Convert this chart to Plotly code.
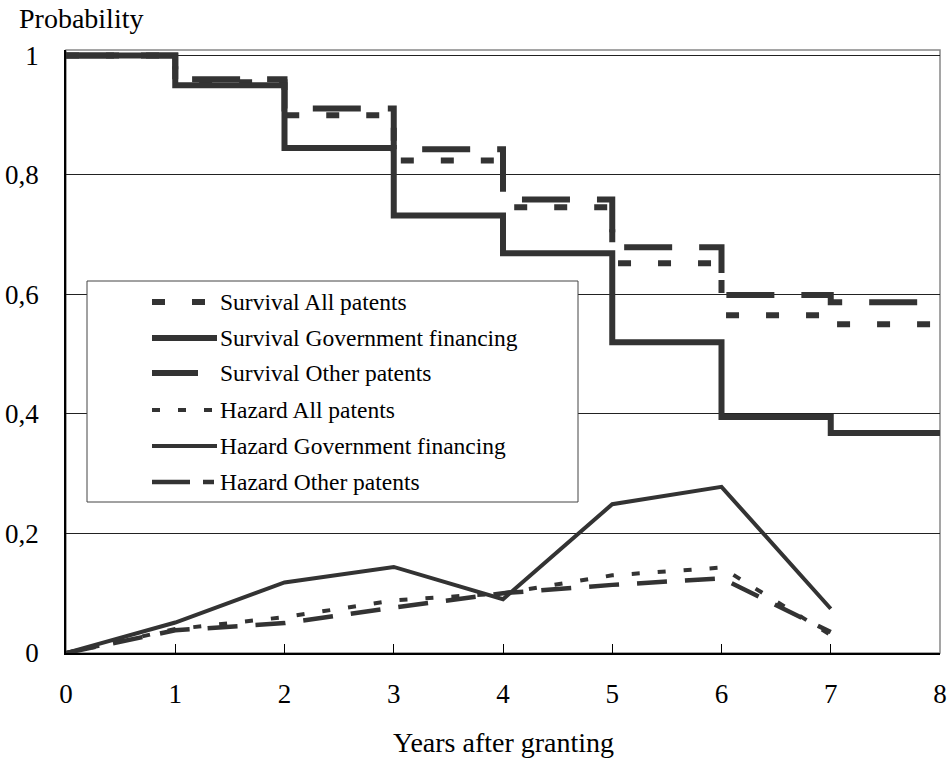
import plotly.graph_objects as go

# ---- data ----
years_surv = [0, 1, 2, 3, 4, 5, 6, 7, 8]
surv_all = [1.0, 0.955, 0.90, 0.824, 0.746, 0.652, 0.565, 0.55, 0.55]
surv_gov = [1.0, 0.95, 0.845, 0.732, 0.669, 0.52, 0.395, 0.368, 0.368]
surv_other = [1.0, 0.96, 0.911, 0.843, 0.759, 0.679, 0.599, 0.587, 0.587]

years_haz = [0, 1, 2, 3, 4, 5, 6, 7]
haz_all = [0.0, 0.04, 0.06, 0.088, 0.1, 0.13, 0.143, 0.03]
haz_gov = [0.0, 0.051, 0.118, 0.144, 0.09, 0.249, 0.278, 0.074]
haz_other = [0.0, 0.038, 0.05, 0.076, 0.1, 0.114, 0.125, 0.035]

legend_labels = ["Survival All patents", "Survival Government financing",
                 "Survival Other patents", "Hazard All patents",
                 "Hazard Government financing", "Hazard Other patents"]
y_tickvals = [0, 0.2, 0.4, 0.6, 0.8, 1]
y_ticktext = ["0", "0,2", "0,4", "0,6", "0,8", "1"]
x_tickvals = [0, 1, 2, 3, 4, 5, 6, 7, 8]

# ---- layout geometry ----
W, H = 951, 763
L, R, T, B = 66, 940, 50, 653
def px(x):
    return (x - L) / (R - L)
def py(y):
    return (B - y) / (B - T)

C = "#333333"
FONT = "Liberation Serif"

fig = go.Figure()
styles = [
    dict(width=6, dash="13px,27px"),
    dict(width=6, dash="solid"),
    dict(width=6, dash="48px,27px"),
    dict(width=4, dash="8px,18px"),
    dict(width=4, dash="solid"),
    dict(width=4.5, dash="30px,18px"),
]
fig.add_trace(go.Scatter(x=years_surv, y=surv_all, mode="lines", line_shape="hv",
                         line=dict(color=C, **styles[0]), name=legend_labels[0]))
fig.add_trace(go.Scatter(x=years_surv, y=surv_other, mode="lines", line_shape="hv",
                         line=dict(color=C, **styles[2]), name=legend_labels[2]))
fig.add_trace(go.Scatter(x=years_surv, y=surv_gov, mode="lines", line_shape="hv",
                         line=dict(color=C, **styles[1]), name=legend_labels[1]))
fig.add_trace(go.Scatter(x=years_haz, y=haz_all, mode="lines",
                         line=dict(color=C, **styles[3]), name=legend_labels[3]))
fig.add_trace(go.Scatter(x=years_haz, y=haz_other, mode="lines",
                         line=dict(color=C, **styles[5]), name=legend_labels[5]))
fig.add_trace(go.Scatter(x=years_haz, y=haz_gov, mode="lines",
                         line=dict(color=C, **styles[4]), name=legend_labels[4]))

shapes = []
annotations = []
# plot frame (gray top/right)
shapes.append(dict(type="rect", xref="paper", yref="paper", x0=0, x1=1, y0=0, y1=1,
                   line=dict(color="#888888", width=1.5), layer="below"))
# custom legend box
shapes.append(dict(type="rect", xref="paper", yref="paper", x0=px(87), x1=px(578),
                   y0=py(502), y1=py(281), line=dict(color="#444444", width=1),
                   fillcolor="white", layer="above"))
leg_y = [302, 338, 373, 410, 446, 482]
leg_styles = [
    dict(width=6, dash="13px,27px", x1=206),
    dict(width=6, dash="solid", x1=217),
    dict(width=6, dash="solid", x1=198),
    dict(width=4, dash="8px,18px", x1=214),
    dict(width=4, dash="solid", x1=217),
    dict(width=4.5, dash="38px,13px", x1=214),
]
for lab, yy, st in zip(legend_labels, leg_y, leg_styles):
    shapes.append(dict(type="line", xref="paper", yref="paper", x0=px(152), x1=px(st["x1"]),
                       y0=py(yy), y1=py(yy), line=dict(color=C, width=st["width"], dash=st["dash"]),
                       layer="above"))
    annotations.append(dict(x=px(218), y=py(yy), xref="paper", yref="paper", text=lab,
                            showarrow=False, xanchor="left", yanchor="middle",
                            font=dict(family=FONT, size=23.5, color="black")))

annotations.append(dict(x=px(17), y=py(18), xref="paper", yref="paper", text="Probability",
                        showarrow=False, xanchor="left", yanchor="middle",
                        font=dict(family=FONT, size=28, color="black")))
annotations.append(dict(x=px(503), y=py(742), xref="paper", yref="paper", text="Years after granting",
                        showarrow=False, xanchor="center", yanchor="middle",
                        font=dict(family=FONT, size=28, color="black")))

fig.update_layout(
    width=W, height=H,
    margin=dict(l=L, r=W - R, t=T, b=H - B, pad=0, autoexpand=False),
    paper_bgcolor="white", plot_bgcolor="white",
    showlegend=False,
    shapes=shapes, annotations=annotations,
    font=dict(family=FONT, size=27, color="black"),
)
fig.update_xaxes(range=[0, 8], tickvals=x_tickvals, ticks="inside", ticklen=9, tickcolor="black",
                 tickwidth=1, showline=True, linecolor="black", linewidth=1.5, showgrid=False,
                 zeroline=False, ticklabelstandoff=16, tickfont=dict(family=FONT, size=27),
                 automargin=False)
fig.update_yaxes(range=[0, 1.009], tickvals=y_tickvals, ticktext=y_ticktext, ticks="",
                 showline=True, linecolor="black", linewidth=1.5, showgrid=True,
                 gridcolor="#222222", gridwidth=1, zeroline=False, ticklabelstandoff=20,
                 tickfont=dict(family=FONT, size=27), automargin=False)

fig.write_html("out.html", config={"displayModeBar": False},
               post_script="document.body.style.margin='0';document.body.style.overflow='hidden';")
